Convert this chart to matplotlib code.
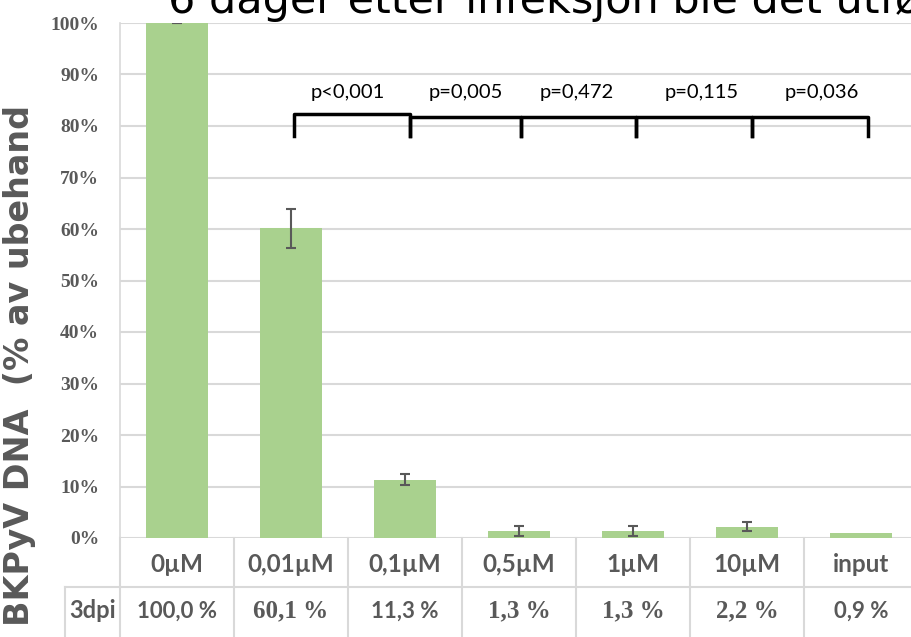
import matplotlib
matplotlib.use("Agg")
import matplotlib.pyplot as plt
from matplotlib.lines import Line2D
import numpy as np

# ---- data ----
categories = ["0\u00b5M", "0,01\u00b5M", "0,1\u00b5M", "0,5\u00b5M", "1\u00b5M", "10\u00b5M", "input"]
values = [100.0, 60.1, 11.3, 1.3, 1.3, 2.2, 0.9]
errors = [0.05, 3.8, 1.05, 1.0, 1.0, 0.85, 0.0]
table_row_label = "3dpi"
table_values = ["100,0 %", "60,1 %", "11,3 %", "1,3 %", "1,3 %", "2,2 %", "0,9 %"]
table_fonts = ["Lato", "Liberation Serif", "Lato", "Liberation Serif", "Liberation Serif", "Liberation Serif", "Lato"]
p_labels = ["p<0,001", "p=0,005", "p=0,472", "p=0,115", "p=0,036"]
bracket_x = [1.03, 2.04, 3.02, 4.03, 5.04, 6.06]
bracket_top = [82.3, 81.7, 81.7, 81.7, 81.7]
bracket_bottom = 78.0
p_text_x = [1.50, 2.53, 3.51, 4.60, 5.66]
p_text_y = 86.6
yticks = list(range(0, 101, 10))
title = "6 dager etter infeksjon ble det utført"
ylabel = "BKPyV DNA  (% av ubehand"

W, H = 911, 637
GRAY = "#595959"
GRID = "#D9D9D9"
BAR = "#A9D18E"

fig = plt.figure(figsize=(W / 100, H / 100), dpi=100)
ax = fig.add_axes([120 / W, 99 / H, 798 / W, 515 / H])
x = np.arange(len(categories))
ax.bar(x, values, width=0.55, color=BAR, zorder=3)
ex = [i for i, e in enumerate(errors) if e > 0]
ax.errorbar([x[i] for i in ex], [values[i] for i in ex], yerr=[errors[i] for i in ex],
            fmt="none", ecolor=GRAY, elinewidth=1.5, capsize=3.3, capthick=1.5, zorder=4)
ax.set_xlim(-0.5, len(categories) - 0.5)
ax.set_ylim(0, 100)
ax.set_yticks(yticks)
ax.set_yticklabels([f"{t}%" for t in yticks], fontfamily="Liberation Serif",
                   fontweight="bold", fontsize=14, color=GRAY)
ax.tick_params(axis="y", length=0, pad=15)
ax.set_xticks([])
ax.grid(axis="y", color=GRID, linewidth=1.5, zorder=0)
for s in ["top", "right", "bottom"]:
    ax.spines[s].set_visible(False)
ax.spines["left"].set_color(GRID)
ax.spines["left"].set_linewidth(1.2)

# brackets with p-values
for i in range(len(p_labels)):
    xa, xb = bracket_x[i], bracket_x[i + 1]
    t = bracket_top[i]
    ax.plot([xa, xa, xb, xb], [bracket_bottom, t, t, bracket_bottom], color="black",
            linewidth=2.5, solid_joinstyle="round", zorder=5, clip_on=False)
    ax.text(p_text_x[i], p_text_y, p_labels[i], ha="center", va="center",
            fontfamily="Lato", fontsize=14.5, color="black")

# table below the axis
tax = fig.add_axes([120 / W, 0, 798 / W, 99 / H])
tax.set_xlim(-0.5, len(categories) - 0.5)
tax.set_ylim(0, 99)
tax.axis("off")
hdr_left = -0.5 - 55 / 114
for k in range(len(categories) + 1):
    tax.add_line(Line2D([k - 0.5, k - 0.5], [0, 99], color=GRID, lw=1.5, clip_on=False))
tax.add_line(Line2D([hdr_left, len(categories) - 0.5], [50, 50], color=GRID, lw=1.5, clip_on=False))
tax.add_line(Line2D([hdr_left, hdr_left], [0, 50], color=GRID, lw=1.5, clip_on=False))
for i, c in enumerate(categories):
    tax.text(i, 73, c, ha="center", va="center", fontfamily="Lato", fontweight="bold",
             fontsize=17.5, color=GRAY)
    fs = 16 if table_fonts[i] == "Lato" else 18
    tax.text(i, 26, table_values[i], ha="center", va="center", fontfamily=table_fonts[i],
             fontweight="bold", fontsize=fs, color=GRAY)
tax.text((hdr_left - 0.5) / 2, 26, table_row_label, ha="center", va="center",
         fontfamily="Lato", fontweight="bold", fontsize=17, color=GRAY, clip_on=False)

# y label and title
fig.text(20 / W, 1 - 366 / H, ylabel, rotation=90, ha="center", va="center",
         fontfamily="DejaVu Sans", fontweight="bold", fontsize=24, color=GRAY)
fig.text(168 / W, 1 - 13 / H, title, ha="left", va="baseline",
         fontfamily="DejaVu Sans", fontsize=31, color="black")

fig.savefig("out.png", dpi=100)
